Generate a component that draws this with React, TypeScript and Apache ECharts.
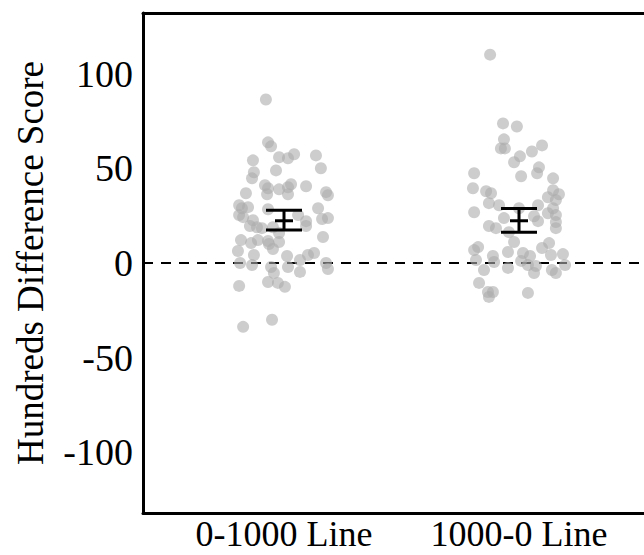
import React, { useEffect, useRef } from "react";
import * as echarts from "echarts";

const categories = ["0-1000 Line", "1000-0 Line"];
const yTicks = [-100, -50, 0, 50, 100];

// Group 1 (0-1000 Line): jittered x positions and scores
const group1X = [
  0.923, 0.932, 0.945, 0.868, 0.979, 1.017, 1.043, 1.136, 1.157, 0.966,
  0.872, 0.864, 0.919, 0.932, 0.979, 1.03, 1.017, 1.094, 0.838, 0.928,
  1.017, 1.179, 1.187, 0.809, 0.821, 0.847, 0.932, 1.145, 0.809, 0.826,
  0.868, 1.06, 1.094, 1.094, 1.162, 1.187, 0.855, 0.885, 0.906, 0.953,
  0.979, 1.166, 0.817, 0.86, 0.889, 0.932, 0.936, 0.979, 0.953, 0.804,
  0.872, 1.013, 1.102, 1.128, 0.813, 0.864, 0.945, 0.957, 1.017, 1.068,
  1.068, 1.179, 1.187, 0.932, 0.974, 1.004, 0.809, 0.949, 0.826,
];
const group1Y = [
  86.3, 63.7, 61.6, 54.2, 55.8, 55.3, 57.4, 56.8, 50.0, 48.9,
  47.9, 44.7, 41.1, 39.5, 38.9, 41.6, 40.0, 40.5, 36.8, 36.3,
  36.3, 37.4, 35.8, 30.5, 28.9, 29.5, 28.4, 28.9, 25.3, 24.2,
  22.6, 25.3, 22.1, 19.5, 23.2, 23.7, 19.5, 18.9, 18.4, 18.9,
  15.8, 13.7, 12.1, 10.5, 12.1, 11.6, 10.0, 11.1, 7.4, 6.3,
  4.2, 3.7, 4.2, 5.3, 0, -1.1, -2.1, -5.3, -2.1, 1.6,
  -4.7, 0, -3.2, -10.0, -10.5, -12.6, -12.1, -30.0, -33.7,
];

// Group 2 (1000-0 Line)
const group2X = [
  1.877, 1.932, 1.991, 1.936, 1.923, 1.94, 2.004, 1.979, 2.055, 2.098,
  1.809, 2.009, 2.085, 2.077, 2.145, 1.804, 1.86, 1.881, 2.145, 2.17,
  2.123, 2.157, 1.872, 1.915, 2.0, 2.081, 2.145, 1.809, 2.123, 2.157,
  1.936, 2.064, 2.081, 2.157, 2.157, 1.872, 1.902, 1.957, 1.979, 1.826,
  1.809, 1.889, 1.953, 2.017, 2.047, 2.098, 2.128, 2.136, 2.187, 2.196,
  1.817, 1.894, 1.851, 1.953, 2.009, 2.038, 2.072, 2.064, 2.14, 2.157,
  1.83, 1.868, 1.889, 1.872, 2.038,
];
const group2Y = [
  110.0, 73.7, 72.1, 65.3, 60.5, 60.5, 56.3, 53.2, 58.9, 62.1,
  47.4, 45.8, 50.5, 47.4, 44.7, 39.5, 37.9, 36.8, 38.4, 36.3,
  34.7, 33.2, 31.6, 30.5, 28.9, 30.5, 28.9, 26.8, 26.3, 25.3,
  23.7, 24.7, 22.1, 21.6, 18.4, 19.5, 18.4, 16.3, 11.1, 8.4,
  6.8, 3.7, 5.8, 5.3, 3.7, 7.9, 10.5, 4.2, 4.7, -1.1,
  1.6, 0.5, -3.7, -2.6, 1.1, -1.1, -1.6, -5.3, -3.7, -5.3,
  -10.5, -15.3, -15.3, -17.9, -15.8,
];

// Mean and error bar bounds per category
const means = [22.3, 22.3];
const lowerBounds = [17.4, 16.2];
const upperBounds = [27.9, 28.8];

const FONT = '"Liberation Serif", "Times New Roman", serif';

export default function App() {
  const ref = useRef<HTMLDivElement>(null);

  useEffect(() => {
    if (!ref.current) return;
    const chart = echarts.init(ref.current, undefined, { renderer: "svg" });

    const pts = [
      ...group1X.map((x, i) => [x, group1Y[i]]),
      ...group2X.map((x, i) => [x, group2Y[i]]),
    ];
    const errData = categories.map((_, i) => [i + 1, means[i], lowerBounds[i], upperBounds[i]]);

    chart.setOption({
      animation: false,
      grid: { left: 143, top: 13, width: 517, height: 500 },
      xAxis: [
        {
          type: "value",
          position: "bottom",
          min: 0.4,
          max: 2.6,
          axisLine: { show: true, onZero: false, lineStyle: { color: "#000", width: 3 } },
          axisTick: { show: false },
          splitLine: { show: false },
          axisLabel: {
            customValues: [1, 2],
            formatter: (v: number) => categories[Math.round(v) - 1] ?? "",
            color: "#000",
            fontFamily: FONT,
            fontSize: 36,
            lineHeight: 30,
            margin: 6,
          },
        },
        {
          type: "value",
          position: "top",
          min: 0.4,
          max: 2.6,
          axisLine: { show: true, onZero: false, lineStyle: { color: "#000", width: 3 } },
          axisTick: { show: false },
          splitLine: { show: false },
          axisLabel: { show: false },
        },
      ],
      yAxis: {
        type: "value",
        min: -132,
        max: 132,
        name: "Hundreds Difference Score",
        nameLocation: "middle",
        nameGap: 94,
        nameTextStyle: { color: "#000", fontFamily: FONT, fontSize: 37 },
        axisLine: { show: true, onZero: false, lineStyle: { color: "#000", width: 3 } },
        axisTick: { show: false },
        splitLine: { show: false },
        axisLabel: {
          customValues: yTicks,
          color: "#000",
          fontFamily: FONT,
          fontSize: 38,
          margin: 10,
        },
      },
      series: [
        {
          type: "scatter",
          data: pts,
          symbolSize: 12,
          itemStyle: { color: "rgb(172,172,172)", opacity: 0.6 },
          z: 2,
          markLine: {
            silent: true,
            symbol: "none",
            label: { show: false },
            lineStyle: { color: "#000", width: 2, type: [10, 8] },
            data: [{ yAxis: 0 }],
            z: 1,
          },
        },
        {
          type: "custom",
          z: 5,
          data: errData,
          renderItem: (params: any, api: any) => {
            const x = api.value(0);
            const m = api.coord([x, api.value(1)]);
            const lo = api.coord([x, api.value(2)]);
            const hi = api.coord([x, api.value(3)]);
            const st = { stroke: "#000", lineWidth: 3 };
            return {
              type: "group",
              children: [
                { type: "line", shape: { x1: lo[0], y1: lo[1], x2: hi[0], y2: hi[1] }, style: st },
                { type: "line", shape: { x1: lo[0] - 18, y1: lo[1], x2: lo[0] + 18, y2: lo[1] }, style: st },
                { type: "line", shape: { x1: hi[0] - 18, y1: hi[1], x2: hi[0] + 18, y2: hi[1] }, style: st },
                { type: "line", shape: { x1: m[0] - 9, y1: m[1], x2: m[0] + 9, y2: m[1] }, style: st },
              ],
            };
          },
        },
      ],
    });

    return () => chart.dispose();
  }, []);

  return (
    <div
      style={{
        position: "absolute",
        left: 0,
        top: 0,
        width: 644,
        height: 555,
        overflow: "hidden",
      }}
    >
      <div ref={ref} style={{ width: 680, height: 555 }} />
    </div>
  );
}
